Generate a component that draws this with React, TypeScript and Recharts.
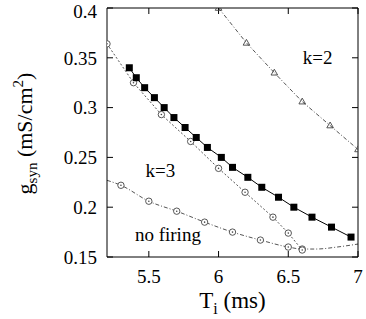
import { LineChart, Line, XAxis, YAxis, ReferenceDot, Label } from 'recharts';

// filled squares (solid line)
const sqT = [5.36, 5.41, 5.47, 5.54, 5.61, 5.68, 5.76, 5.84, 5.92, 6.02, 6.1, 6.21, 6.31, 6.43, 6.54, 6.67, 6.81, 6.95];
const sqG = [0.34, 0.33, 0.32, 0.31, 0.3, 0.29, 0.28, 0.27, 0.26, 0.25, 0.24, 0.23, 0.22, 0.21, 0.2, 0.19, 0.18, 0.17];

// k=3 upper boundary (open circles)
const k3T = [5.2, 5.39, 5.59, 5.8, 6.0, 6.19, 6.39, 6.5, 6.6];
const k3G = [0.364, 0.325, 0.293, 0.266, 0.239, 0.215, 0.19, 0.174, 0.157];

// no-firing boundary: measured points and fitted curve
const nfT = [5.3, 5.5, 5.7, 5.9, 6.1, 6.3, 6.5, 6.6];
const nfG = [0.222, 0.206, 0.196, 0.185, 0.175, 0.167, 0.16, 0.158];
const nfFitT = [5.2, 5.3, 5.5, 5.7, 5.9, 6.1, 6.3, 6.5, 6.6, 6.7, 6.85, 7.0];
const nfFitG = [0.227, 0.222, 0.206, 0.196, 0.185, 0.175, 0.167, 0.16, 0.158, 0.158, 0.16, 0.163];

// k=2 boundary (open triangles)
const k2T = [6.0, 6.2, 6.4, 6.6, 6.8, 7.0];
const k2G = [0.4, 0.365, 0.335, 0.306, 0.282, 0.258];

const xTicks = [5.5, 6, 6.5, 7];
const yTicks = [0.15, 0.2, 0.25, 0.3, 0.35, 0.4];

const zip = (t: number[], g: number[]) => t.map((v, i) => ({ t: v, g: g[i] }));

const font = 'Times New Roman';

const Square = (p: any) => (
  <rect key={p.index} x={p.cx - 3.5} y={p.cy - 3.5} width={7} height={7} fill="#000" />
);
const Circle = (p: any) => (
  <g key={p.index}>
    <circle cx={p.cx} cy={p.cy} r={3.2} fill="#fff" stroke="#444" strokeWidth={0.9} />
    <circle cx={p.cx} cy={p.cy} r={0.8} fill="#444" />
  </g>
);
const Triangle = (p: any) => (
  <path
    key={p.index}
    d={`M${p.cx},${p.cy - 3.5}L${p.cx + 3.3},${p.cy + 2.3}L${p.cx - 3.3},${p.cy + 2.3}Z`}
    fill="none"
    stroke="#444"
    strokeWidth={0.9}
  />
);

const note = (txt: string) => (p: any) => (
  <text x={p.cx} y={p.cy} textAnchor="middle" fontFamily={font} fontSize={19} fill="#000">
    {txt}
  </text>
);

const YTitle = (p: any) => {
  const x = p.viewBox.x + 32;
  const y = p.viewBox.y + p.viewBox.height / 2 + 1;
  return (
    <text x={x} y={y} transform={`rotate(-90, ${x}, ${y})`} textAnchor="middle" fontFamily={font} fontSize={22} fill="#000">
      g<tspan dy={5} fontSize={15}>syn</tspan>
      <tspan dy={-5}> (mS/cm</tspan>
      <tspan dy={-9} fontSize={15}>2</tspan>
      <tspan dy={9}>)</tspan>
    </text>
  );
};

const XTitle = (p: any) => {
  const x = p.viewBox.x + p.viewBox.width / 2;
  const y = p.viewBox.y + 51;
  return (
    <text x={x} y={y} textAnchor="middle" fontFamily={font} fontSize={23} fill="#000">
      T<tspan dy={6} fontSize={16}>i</tspan>
      <tspan dy={-6}> (ms)</tspan>
    </text>
  );
};

const tickStyle = { fontFamily: font, fontSize: 19, fill: '#000' };

export default function App() {
  return (
    <div style={{ position: 'absolute', left: 0, top: 0, background: '#fff', fontFamily: font }}>
      <LineChart width={366} height={319} margin={{ top: 0, right: 0, bottom: 0, left: 0 }}>
        <XAxis
          dataKey="t"
          type="number"
          domain={[5.2, 7]}
          ticks={xTicks}
          allowDataOverflow
          height={62}
          tickSize={-6}
          tickMargin={19}
          tick={tickStyle}
          stroke="#000"
          label={<Label content={XTitle} />}
        />
        <XAxis
          xAxisId="top"
          orientation="top"
          dataKey="t"
          type="number"
          domain={[5.2, 7]}
          ticks={xTicks}
          allowDataOverflow
          height={8}
          tickSize={-6}
          tickFormatter={() => ''}
          stroke="#000"
        />
        <YAxis
          type="number"
          domain={[0.15, 0.4]}
          ticks={yTicks}
          allowDataOverflow
          width={107}
          tickSize={-6}
          tickMargin={16}
          tick={tickStyle}
          stroke="#000"
          label={<Label content={YTitle} />}
        />
        <YAxis
          yAxisId="right"
          orientation="right"
          type="number"
          domain={[0.15, 0.4]}
          ticks={yTicks}
          allowDataOverflow
          width={8}
          tickSize={-6}
          tickFormatter={() => ''}
          stroke="#000"
        />
        <Line
          data={zip(nfFitT, nfFitG)}
          dataKey="g"
          type="monotone"
          stroke="#555"
          strokeWidth={1}
          strokeDasharray="4 2 1 2"
          dot={false}
          isAnimationActive={false}
        />
        <Line
          data={zip(nfT, nfG)}
          dataKey="g"
          stroke="none"
          dot={Circle}
          isAnimationActive={false}
        />
        <Line
          data={zip(k3T, k3G)}
          dataKey="g"
          type="linear"
          stroke="#555"
          strokeWidth={1}
          strokeDasharray="2 2"
          dot={Circle}
          isAnimationActive={false}
        />
        <Line
          data={zip(sqT, sqG)}
          dataKey="g"
          type="linear"
          stroke="#000"
          strokeWidth={1}
          dot={Square}
          isAnimationActive={false}
        />
        <Line
          data={zip(k2T, k2G)}
          dataKey="g"
          type="linear"
          stroke="#555"
          strokeWidth={1}
          strokeDasharray="4 2 1 2"
          dot={Triangle}
          isAnimationActive={false}
        />
        <ReferenceDot x={6.71} y={0.344} r={0} shape={note('k=2')} />
        <ReferenceDot x={5.583} y={0.23} r={0} shape={note('k=3')} />
        <ReferenceDot x={5.637} y={0.166} r={0} shape={note('no firing')} />
      </LineChart>
    </div>
  );
}
